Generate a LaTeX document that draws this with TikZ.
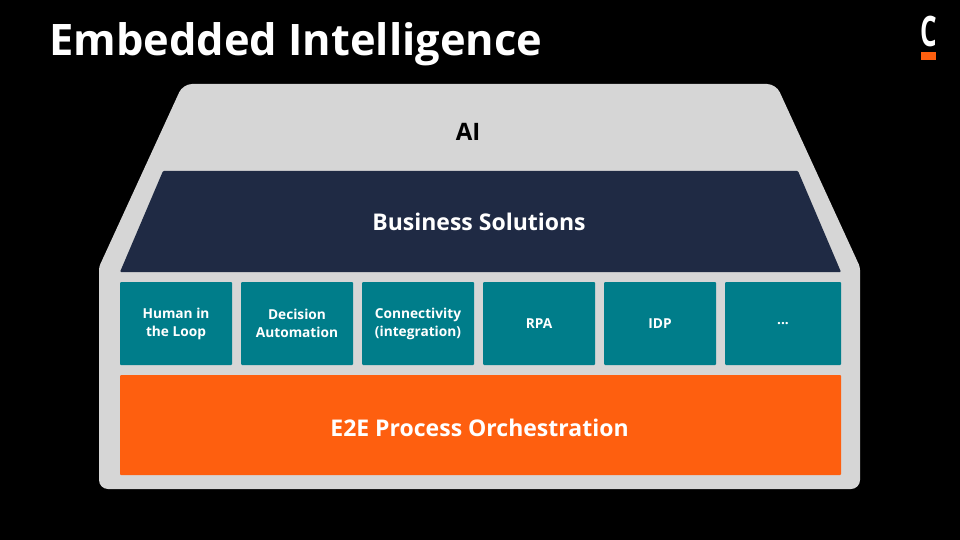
\documentclass[tikz,border=0pt]{standalone}
\usepackage{fontspec}
\setmainfont{Open Sans}
\definecolor{shell}{HTML}{D6D6D6}
\definecolor{navy}{HTML}{1F2A44}
\definecolor{teal}{HTML}{007D8A}
\definecolor{orng}{HTML}{FE5F0F}
\tikzset{
  lbl/.style={text=white,font=\bfseries\fontsize{13.7}{18}\selectfont,align=center,anchor=center},
  cell/.style={fill=teal,rounded corners=1pt,draw=none},
}
\begin{document}
\begin{tikzpicture}[x=1pt,y=-1pt]
\useasboundingbox (0,0) rectangle (960,540);
\fill[black] (0,0) rectangle (960,540);
% shell
\fill[shell,rounded corners=9pt] (99,489) -- (860,489) [rounded corners=3pt] -- (860,267) [rounded corners=9pt] -- (776,84) -- (183,84) [rounded corners=3pt] -- (99,267) [rounded corners=9pt] -- cycle;
% navy
\fill[navy,rounded corners=1pt] (120,272) -- (163,171) -- (798,171) -- (841,272) -- cycle;
\node[lbl,font=\bfseries\fontsize{23}{26}\selectfont] (bs) at (479,222) {Business Solutions};
\node[font=\bfseries\fontsize{24}{26}\selectfont,text=black] (ai) at (468,132) {AI};
% cells
\foreach \n/\xa/\xb/\t in {a/120/232/{Human in\\the Loop},b/241/353/{Decision\\Automation},c/362/474/{Connectivity\\(integration)},d/483/595/{RPA},e/604/716/{IDP},f/725/841/{...}}{
  \fill[cell] (\xa,282) rectangle (\xb,365);
  \node[lbl] (\n) at ({(\xa+\xb)/2},323.5) {\t};
}
% orange
\fill[orng,rounded corners=1pt] (120,375) rectangle (841,475);
\node[lbl,font=\bfseries\fontsize{23}{26}\selectfont] (e2e) at (479.5,427.5) {E2E Process Orchestration};
% title
\node[text=white,font=\bfseries\fontsize{43.4}{50}\selectfont,anchor=base west,inner sep=0pt] (title) at (49,56) {Embedded Intelligence};
% logo
\node[text=white,font=\bfseries\fontsize{42}{42}\selectfont,inner sep=0pt,xscale=0.62] (logo) at (928.5,32) {C};
\fill[orng] (921,52) rectangle (936,60);
\end{tikzpicture}
\end{document}
